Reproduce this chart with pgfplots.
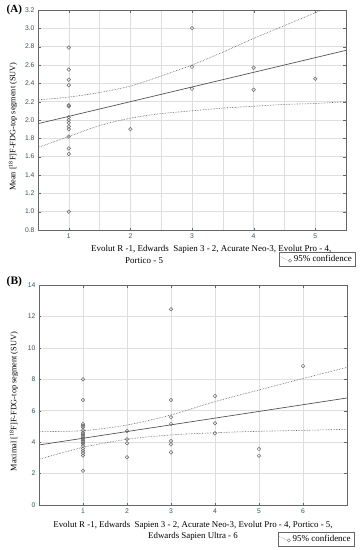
\documentclass[border=0pt]{standalone}
\usepackage{fontspec}
\setmainfont{Liberation Serif}
\setsansfont{Liberation Sans}
\usepackage{pgfplots}
\pgfplotsset{compat=1.18}
\definecolor{ticklab}{RGB}{45,85,110}
\definecolor{gridc}{RGB}{222,222,222}
\definecolor{ptc}{RGB}{105,105,105}
\definecolor{linec}{RGB}{85,85,85}
\pgfplotsset{
 panel/.style={scale only axis, width=308bp, height=220bp, anchor=north west,
  axis line style={draw=black!60, line width=0.6pt},
  tick align=inside, major tick length=2.5bp, minor tick length=0pt,
  tick style={black!60},
  xmajorgrids, ymajorgrids, major grid style={gridc, line width=0.5pt},
  minor grid style={gridc, line width=0.5pt},
  ticklabel style={font=\sffamily\fontsize{6.8}{7}\selectfont, text=ticklab},
  /pgf/number format/assume math mode=true,
  ylabel style={font=\fontsize{8.3}{10}\selectfont, at={(axis description cs:-0.081,0.47)}, anchor=center},
  legend style={draw=black!60, font=\fontsize{9}{9.5}\selectfont, inner sep=1.2bp, cells={anchor=west}},
  legend image code/.code={\draw[densely dotted, linec] (0bp,2.5bp) -- (7bp,-1bp); \draw[ptc] (9.3bp,-1.5bp) circle (1.6bp);},
 },
 pts/.style={only marks, mark=o, mark size=1.8bp, ptc, mark options={line width=0.5pt}},
 fitl/.style={no marks, linec, line width=0.7pt},
 ci/.style={no marks, linec, densely dotted, line width=0.6pt, smooth},
}
\begin{document}
\begin{tikzpicture}
% Panel A
\begin{axis}[panel, at={(38bp,-10bp)},
  xmin=0.5, xmax=5.5, ymin=0.8, ymax=3.2,
  xtick={1,2,3,4,5}, minor xtick={1.5,2.5,3.5,4.5}, xminorgrids,
  ytick={0.8,1.0,...,3.2},
  yticklabel style={/pgf/number format/.cd, fixed, fixed zerofill, precision=1},
  ylabel={Mean [\textsuperscript{18}F]F-FDG-top segment (SUV)},
  legend style={at={(axis description cs:1.03,-0.1)}, anchor=north east},
]
\addlegendimage{}
\addlegendentry{95\% confidence}
\addplot[pts] coordinates {
 (1,2.79) (1,2.55) (1,2.44) (1,2.38) (1,2.16) (1,2.15) (1,2.03) (1,2.00) (1,1.97) (1,1.93) (1,1.90) (1,1.82) (1,1.69) (1,1.63) (1,1.00)
 (2,1.90)
 (3,3.00) (3,2.58) (3,2.34)
 (4,2.57) (4,2.33)
 (5,2.45)};
\addplot[fitl] coordinates {(0.5,1.96) (5.5,2.76)};
\addplot[ci] coordinates {(0.5,2.22) (1,2.25) (1.5,2.30) (2,2.37) (2.5,2.48) (3,2.60) (3.5,2.74) (4,2.89) (4.5,3.03) (5,3.17) (5.5,3.32)};
\addplot[ci] coordinates {(0.5,1.70) (1,1.82) (1.5,1.94) (2,2.02) (2.5,2.07) (3,2.10) (3.5,2.13) (4,2.15) (4.5,2.17) (5,2.18) (5.5,2.20)};
\end{axis}
\node[font=\fontsize{9}{12.3}\selectfont, align=left, anchor=north west, inner sep=0pt] at (91bp,-245bp) {Evolut R -1, Edwards\ \ Sapien 3 - 2, Acurate Neo-3, Evolut Pro - 4,\\\hspace*{34bp}Portico - 5};
\node[font=\bfseries\fontsize{11}{12}\selectfont, anchor=west, inner sep=0pt] at (6.5bp,-9.5bp) {(A)};
% Panel B
\begin{axis}[panel, at={(39bp,-285bp)},
  xmin=0, xmax=7, ymin=0, ymax=14,
  xtick={1,2,3,4,5,6}, ytick={0,2,...,14},
  xlabel={Evolut R -1, Edwards\ \ Sapien 3 - 2, Acurate Neo-3, Evolut Pro - 4, Portico - 5,\\Edwards Sapien Ultra - 6},
  xlabel style={font=\fontsize{8.9}{10.7}\selectfont, align=center, at={(axis description cs:0.5,0)}, anchor=north, yshift=-16bp, inner sep=0pt},
  ylabel={Maximal [\textsuperscript{18}F]F-FDG-top segment (SUV)},
  legend style={at={(axis description cs:1.023,-0.121)}, anchor=north east},
]
\addlegendimage{}
\addlegendentry{95\% confidence}
\addplot[pts] coordinates {
 (1,8.0) (1,6.68) (1,5.16) (1,5.05) (1,4.95) (1,4.75) (1,4.6) (1,4.5) (1,4.4) (1,4.3) (1,4.2) (1,4.1) (1,4.0) (1,3.9) (1,3.75) (1,3.6) (1,3.45) (1,3.3) (1,3.15) (1,2.18)
 (2,4.71) (2,4.18) (2,3.93) (2,3.04)
 (3,12.46) (3,6.68) (3,5.58) (3,5.16) (3,4.07) (3,3.86) (3,3.35)
 (4,6.94) (4,5.2) (4,4.56)
 (5,3.56) (5,3.14)
 (6,8.85)};
\addplot[fitl] coordinates {(0,3.82) (7,6.81)};
\addplot[ci] coordinates {(0,4.67) (1,4.73) (2,5.09) (3,5.73) (4,6.58) (5,7.32) (6,8.05) (7,8.76)};
\addplot[ci] coordinates {(0,2.91) (1,3.67) (2,4.18) (3,4.46) (4,4.60) (5,4.69) (6,4.75) (7,4.82)};
\end{axis}
\node[font=\bfseries\fontsize{11.5}{12}\selectfont, anchor=west, inner sep=0pt] at (6.5bp,-282bp) {(B)};
\pgfresetboundingbox
\useasboundingbox (0,0) rectangle (363bp,-550bp);
\end{tikzpicture}
\end{document}
